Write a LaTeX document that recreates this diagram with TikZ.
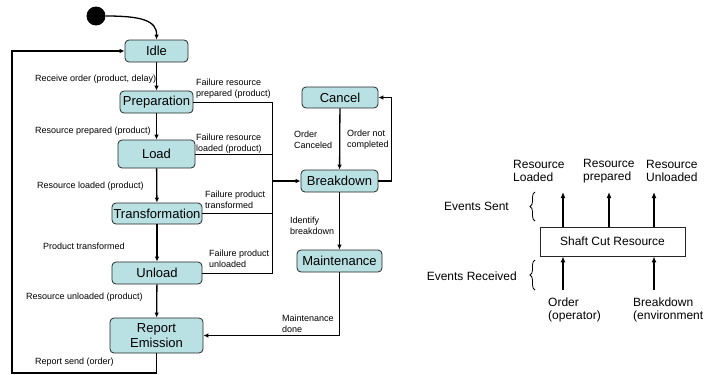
\documentclass[tikz,border=0pt]{standalone}
\usepackage{fontspec}
\setmainfont{Liberation Sans}
\usetikzlibrary{arrows.meta,decorations.pathreplacing}
\definecolor{statefill}{RGB}{185,225,227}
\begin{document}
\begin{tikzpicture}[x=1pt,y=-1pt,
  state/.style={draw=black!85,fill=statefill,rounded corners=4pt,line width=0.8pt,
    inner sep=0pt,font=\fontsize{13}{15}\selectfont,align=center},
  lbl/.style={inner sep=0pt,font=\fontsize{9}{11}\selectfont,align=left},
  rlbl/.style={inner sep=0pt,font=\fontsize{12}{13}\selectfont,align=left},
  arr/.style={line width=1.3pt,-{Latex[length=5pt,width=4.5pt]}},
  wire/.style={line width=0.9pt},
  arrw/.style={line width=1.4pt,-{Latex[length=6pt,width=5pt]}},
  blk/.style={draw=black!85,line width=0.8pt,inner sep=0pt,
    font=\fontsize{12}{14}\selectfont},
  curly/.style={decorate,decoration={brace,amplitude=5pt},line width=0.8pt}]
\useasboundingbox (0,0) rectangle (705,375);

% ---- state machine ----
\node[circle,fill=black,inner sep=0pt,minimum size=19pt] (start) at (96,16) {};
\node[state,minimum width=63pt,minimum height=22pt] (idle) at (156.5,51) {Idle};
\node[state,minimum width=73pt,minimum height=22pt] (prep) at (156.5,102) {Preparation};
\node[state,minimum width=77pt,minimum height=28pt] (load) at (156.5,154) {Load};
\node[state,minimum width=90pt,minimum height=21pt] (trans) at (157,213.5) {Transformation};
\node[state,minimum width=90pt,minimum height=22pt] (unload) at (157,273) {Unload};
\node[state,minimum width=93pt,minimum height=35pt] (rep) at (156.5,335.5) {Report\\Emission};
\node[state,minimum width=76pt,minimum height=21pt] (cancel) at (340,97.5) {Cancel};
\node[state,minimum width=77pt,minimum height=22pt] (brk) at (339.5,181) {Breakdown};
\node[state,minimum width=85pt,minimum height=22pt] (maint) at (339.5,261) {Maintenance};

\coordinate (bus) at (272,181);
\coordinate (loopbl) at (12,373);

\draw[arr] (start.east) .. controls (140,16) and (157,20) .. (idle.north);
\draw[arr] (idle) -- (prep);
\draw[arr] (prep) -- (load);
\draw[arr] (load) -- (trans);
\draw[arr] (trans) -- (unload);
\draw[arr] (unload) -- (rep);
\draw[arr] (rep.south) |- (loopbl) |- (idle.west);

\draw[wire] (prep.east) -- (prep.east -| bus) -- (unload.east -| bus) -- (unload.east);
\draw[wire] (load.east) -- (load.east -| bus);
\draw[wire] (trans.east) -- (trans.east -| bus);
\draw[arr] (bus) -- (brk.west);

\draw[arr] (cancel) -- (brk);
\draw[arr] (brk.east) -- ++(13,0) |- (cancel.east);
\draw[arr] (brk) -- (maint);
\draw[arr] (maint.south) |- (rep.east);

% transition labels
\node[lbl,anchor=west] (l1) at (35,79) {Receive order (product, delay)};
\node[lbl,anchor=west] (l2) at (35,131) {Resource prepared (product)};
\node[lbl,anchor=west] (l3) at (37,186) {Resource loaded (product)};
\node[lbl,anchor=west] (l4) at (43,246) {Product transformed};
\node[lbl,anchor=west] (l5) at (26,297) {Resource unloaded (product)};
\node[lbl,anchor=west] (l6) at (35,362) {Report send (order)};
\node[lbl,anchor=west] (f1) at (196,88.5) {Failure resource\\prepared (product)};
\node[lbl,anchor=west] (f2) at (196,144) {Failure resource\\loaded (product)};
\node[lbl,anchor=west] (f3) at (205,199.5) {Failure product\\transformed};
\node[lbl,anchor=west] (f4) at (209,259) {Failure product\\unloaded};
\node[lbl,anchor=west] (c1) at (294,140) {Order\\Canceled};
\node[lbl,anchor=west] (c2) at (347,140) {Order not\\completed};
\node[lbl,anchor=west] (c3) at (290,225.5) {Identify\\breakdown};
\node[lbl,anchor=west] (c4) at (282,323.5) {Maintenance\\done};

% ---- resource block with its events ----
\node[blk,minimum width=145pt,minimum height=29pt] (shaft) at (612.5,241.5) {Shaft Cut Resource};
\coordinate (o1) at (563,192);
\coordinate (o2) at (609,192);
\coordinate (o3) at (654,192);
\coordinate (i1) at (563,290);
\coordinate (i2) at (654,290);
\draw[arrw] (o1 |- shaft.north) -- (o1);
\draw[arrw] (o2 |- shaft.north) -- (o2);
\draw[arrw] (o3 |- shaft.north) -- (o3);
\draw[arrw] (i1) -- (i1 |- shaft.south);
\draw[arrw] (i2) -- (i2 |- shaft.south);

\node[rlbl,anchor=west] (e1) at (513,171) {Resource\\Loaded};
\node[rlbl,anchor=west] (e2) at (583,171) {Resource\\prepared};
\node[rlbl,anchor=west] (e3) at (646,171) {Resource\\Unloaded};
\node[rlbl,anchor=west] (r1) at (548,309.5) {Order\\(operator)};
\node[rlbl,anchor=west] (r2) at (633,309.5) {Breakdown\\(environment};

\draw[curly] (535,221) -- (535,192);
\draw[curly] (535,290) -- (535,260);
\node[rlbl,anchor=east] (es) at (509,206) {Events Sent};
\node[rlbl,anchor=east] (er) at (517,276) {Events Received};
\end{tikzpicture}
\end{document}
